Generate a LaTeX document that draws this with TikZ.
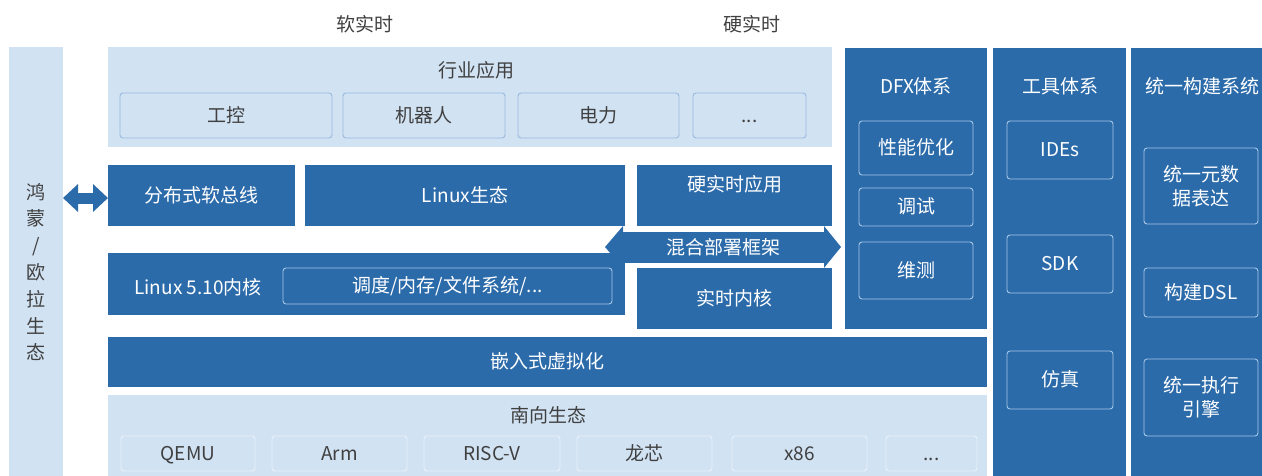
\documentclass[tikz,border=0pt]{standalone}
\usepackage{fontspec}
\setmainfont{Noto Sans CJK SC}
\usetikzlibrary{arrows.meta}
\definecolor{dblue}{HTML}{2C6BAA}
\definecolor{lblue}{HTML}{D1E2F3}
\definecolor{txtg}{HTML}{404040}
\definecolor{lbord}{HTML}{98BADD}
\definecolor{sbord}{HTML}{EAF2FA}
\definecolor{dbord}{HTML}{A8C6E6}
\tikzset{
  base0/.style={anchor=north west, inner sep=0pt, outer sep=0pt, font=\fontsize{19}{23}\selectfont, align=center},
  base/.style={base0, text height=14.25pt, text depth=0.95pt},
  lpanel/.style={base, fill=lblue},
  dpanel/.style={base, fill=dblue, text=white},
  linner/.style={base, fill=lblue, draw=lbord, line width=0.9pt, rounded corners=3pt, text=txtg},
  sinner/.style={base, fill=lblue, draw=sbord, line width=0.9pt, rounded corners=3pt, text=txtg},
  dinner/.style={base, fill=dblue, draw=dbord, line width=0.9pt, rounded corners=3pt, text=white},
  dinnertwo/.style={base0, fill=dblue, draw=dbord, line width=0.9pt, rounded corners=3pt, text=white, font=\fontsize{19}{24}\selectfont},
  ttl/.style={inner sep=0pt, font=\fontsize{19}{23}\selectfont, text=txtg},
  dttl/.style={inner sep=0pt, font=\fontsize{19}{23}\selectfont, text=white},
}
\begin{document}
\begin{tikzpicture}[x=1pt,y=-1pt]
\useasboundingbox (0,0) rectangle (1262,475);
\fill[white] (0,0) rectangle (1262,475);
% top labels
\node[ttl] (soft) at (365,24) {软实时};
\node[ttl] (hard) at (752,24) {硬实时};
% left bar
\node[lpanel, minimum width=54pt, minimum height=430pt] (lbar) at (9,47) {};
\node[ttl, align=center, font=\fontsize{19}{26.8}\selectfont] (lbartxt) at (36,272) {鸿\\蒙\\/\\欧\\拉\\生\\态};
% industry apps
\node[lpanel, minimum width=724pt, minimum height=100pt] (apps) at (108,47) {};
\node[ttl] (appsttl) at (476,70) {行业应用};
\node[linner, minimum width=212pt, minimum height=45pt] (ind) at (120,93) {工控};
\node[linner, minimum width=162pt, minimum height=45pt] (robot) at (343,93) {机器人};
\node[linner, minimum width=161pt, minimum height=45pt] (power) at (518,93) {电力};
\node[linner, minimum width=113pt, minimum height=45pt] (more1) at (693,93) {...};
% row 2
\node[dpanel, minimum width=187pt, minimum height=61pt] (bus) at (108,165) {分布式软总线};
\node[dpanel, minimum width=320pt, minimum height=61pt] (leco) at (305,165) {Linux生态};
\node[dpanel, minimum width=195pt, minimum height=61pt, text depth=22pt] (hrtapp) at (637,165) {硬实时应用};
% linux kernel
\node[dpanel, minimum width=517pt, minimum height=62pt] (lk) at (108,253) {};
\node[dttl] (lkttl) at (198,287) {Linux 5.10内核};
\node[dinner, minimum width=329pt, minimum height=36pt] (sched) at (283,268) {调度/内存/文件系统/...};
\node[dpanel, minimum width=195pt, minimum height=61pt] (rtk) at (637,268) {实时内核};
% mixed deploy arrow
\draw[dblue, line width=31pt, {Triangle[width=41pt,length=18pt]}-{Triangle[width=41pt,length=17pt]}] (605,247) -- (841,247);
\node[dttl] (mix) at (723,247) {混合部署框架};
% virtualization
\node[dpanel, minimum width=879pt, minimum height=50pt] (virt) at (108,337) {嵌入式虚拟化};
% south
\node[lpanel, minimum width=879pt, minimum height=82pt] (south) at (108,395) {};
\node[ttl] (southttl) at (548,415) {南向生态};
\node[sinner, minimum width=134pt, minimum height=35pt] (qemu) at (121,436) {QEMU};
\node[sinner, minimum width=135pt, minimum height=35pt] (arm) at (272,436) {Arm};
\node[sinner, minimum width=136pt, minimum height=35pt] (riscv) at (424,436) {RISC-V};
\node[sinner, minimum width=135pt, minimum height=35pt] (loong) at (577,436) {龙芯};
\node[sinner, minimum width=135pt, minimum height=35pt] (x86) at (732,436) {x86};
\node[sinner, minimum width=91pt, minimum height=35pt] (more2) at (886,436) {...};
% DFX
\node[dpanel, minimum width=142pt, minimum height=281pt] (dfx) at (845,48) {};
\node[dttl] (dfxttl) at (916,86) {DFX体系};
\node[dinner, minimum width=114pt, minimum height=54pt] (perf) at (859,121) {性能优化};
\node[dinner, minimum width=114pt, minimum height=38pt] (dbg) at (859,188) {调试};
\node[dinner, minimum width=114pt, minimum height=57pt] (maint) at (859,242) {维测};
% tools
\node[dpanel, minimum width=133pt, minimum height=430pt] (tools) at (993,48) {};
\node[dttl] (toolsttl) at (1060,86) {工具体系};
\node[dinner, minimum width=106pt, minimum height=58pt] (ides) at (1007,121) {IDEs};
\node[dinner, minimum width=106pt, minimum height=58pt] (sdk) at (1007,235) {SDK};
\node[dinner, minimum width=106pt, minimum height=58pt] (sim) at (1007,351) {仿真};
% build
\node[dpanel, minimum width=135pt, minimum height=430pt] (build) at (1131,48) {};
\node[dttl] (buildttl) at (1202,86) {统一构建系统};
\node[dinnertwo, minimum width=114pt, minimum height=76pt] (meta) at (1144,148) {统一元数\\据表达};
\node[dinner, minimum width=114pt, minimum height=49pt] (dsl) at (1144,268) {构建DSL};
\node[dinnertwo, minimum width=114pt, minimum height=77pt] (exec) at (1144,359) {统一执行\\引擎};
% left double arrow
\coordinate (arrl) at ([yshift=-2.5pt]lbar.east |- bus.west);
\coordinate (arrr) at ([yshift=-2.5pt]bus.west);
\draw[dblue, line width=11pt, {Triangle[width=27pt,length=15pt]}-{Triangle[width=27pt,length=15pt]}] (arrl) -- (arrr);
\end{tikzpicture}
\end{document}
